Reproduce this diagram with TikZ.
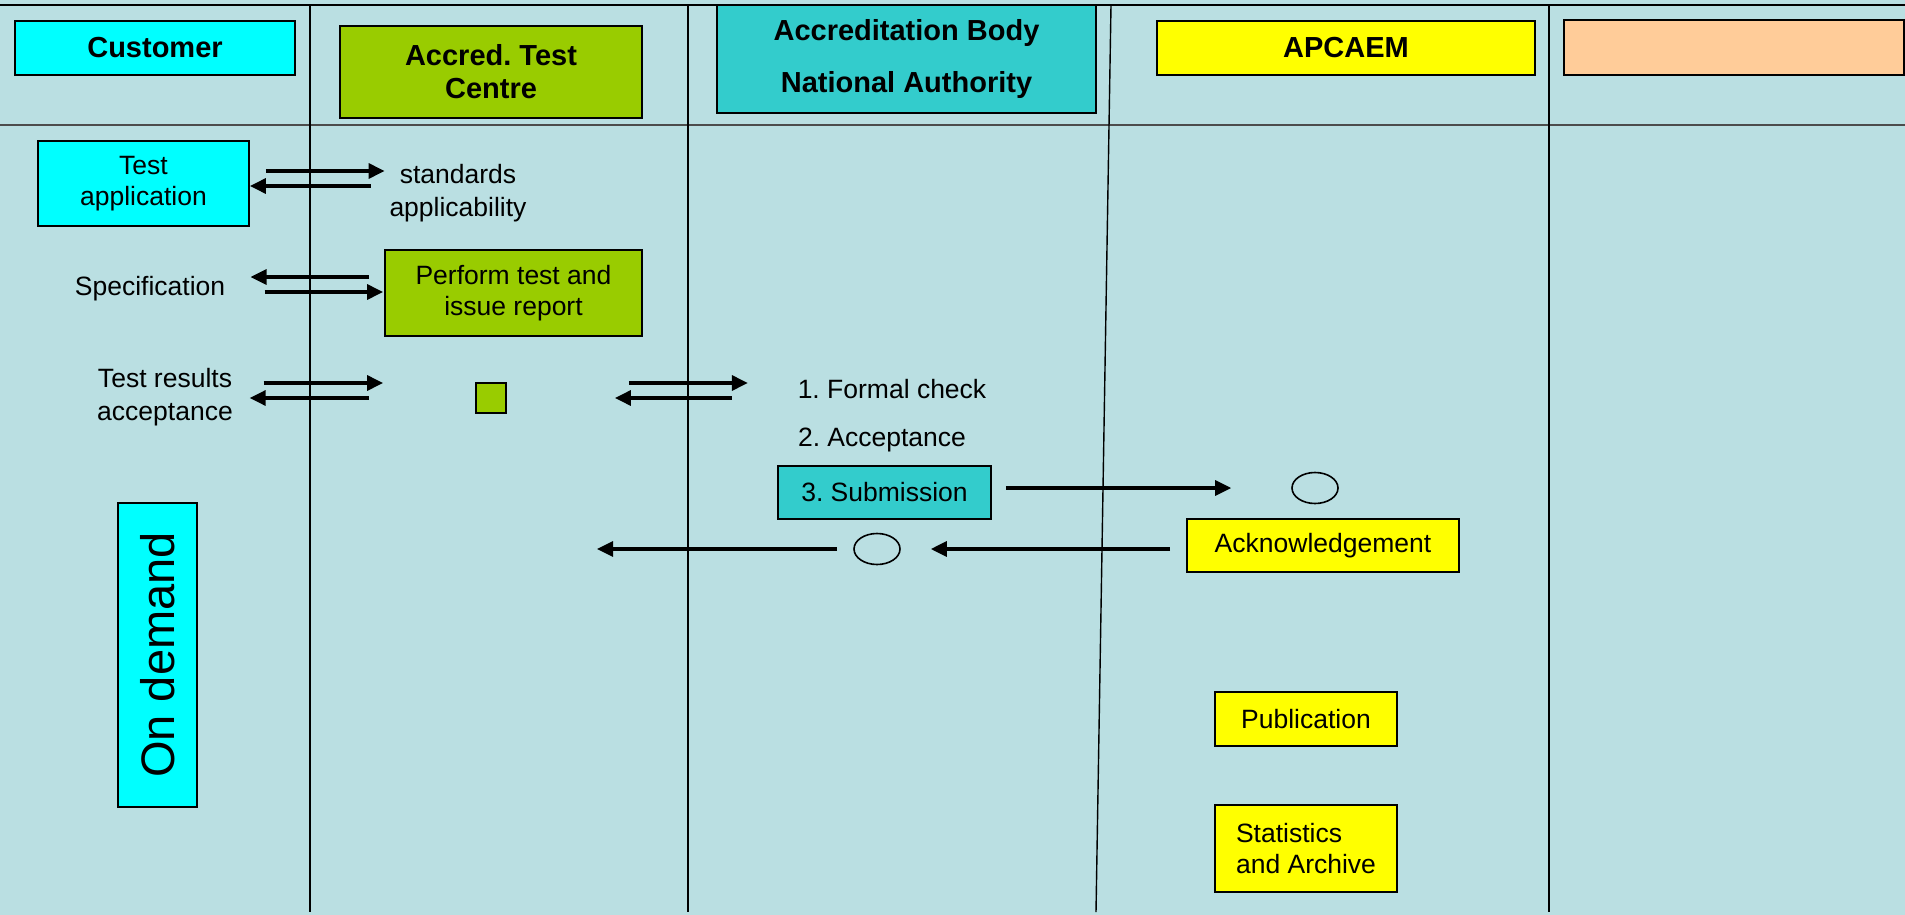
\documentclass[tikz,border=0pt]{standalone}
\usepackage{fontspec}
\setmainfont{Liberation Sans}
\usetikzlibrary{arrows.meta,shadows,shapes.geometric}
\definecolor{laneBg}{RGB}{186,223,226}
\definecolor{custCyan}{RGB}{0,255,255}
\definecolor{testGreen}{RGB}{153,204,0}
\definecolor{bodyTeal}{RGB}{51,204,204}
\definecolor{apcYellow}{RGB}{255,255,0}
\definecolor{peachTone}{RGB}{255,204,153}
\frenchspacing

\begin{document}
\begin{tikzpicture}[x=0.5pt,y=-0.5pt,
    box/.style={draw, line width=0.9pt, inner sep=0pt, align=center,
      general shadow={shadow xshift=0.6pt, shadow yshift=-0.6pt, fill=black!55},
      font=\fontsize{13.25}{15.5}\selectfont},
    head/.style={box, font=\fontsize{14.5}{16.5}\selectfont\bfseries},
    lbl/.style={inner sep=0pt, align=center, font=\fontsize{13.25}{16.5}\selectfont},
    oval/.style={draw, ellipse, line width=0.8pt, inner sep=0pt,
      minimum width=23pt, minimum height=15.5pt},
    arr/.style={-{Triangle[length=8pt,width=7.5pt]}, line width=1.6pt},
    lane/.style={line width=1pt}]
  \fill[laneBg] (0,0) rectangle (1905,915);
  \useasboundingbox (0,0) rectangle (1905,915);
  \draw[lane] (0,5) -- (1905,5);
  \draw[lane, black!70] (0,125) -- (1905,125);
  \foreach \lx in {310,688,1549}
    \draw[lane] (\lx,5) -- (\lx,912);
  \draw[line width=0.7pt] (1111,5) -- (1096,912);

  \node[head, fill=custCyan, minimum width=140pt, minimum height=27pt] (cust) at (155,48) {Customer};
  \node[head, fill=testGreen, minimum width=151pt, minimum height=46pt] (atc) at (491,72) {Accred. Test\\Centre};
  \node[head, fill=bodyTeal, minimum width=189.5pt, minimum height=54pt,
    font=\fontsize{14.5}{26}\selectfont\bfseries] (ab) at (906.5,59) {Accreditation Body\\National Authority};
  \node[head, fill=apcYellow, minimum width=189pt, minimum height=27pt] (apc) at (1346,48) {APCAEM};
  \node[head, fill=peachTone, minimum width=170pt, minimum height=27.5pt] (other) at (1734,47.5) {};

  \node[box, fill=custCyan, minimum width=105.5pt, minimum height=42.5pt] (tapp) at (143.5,183.5) {Test\\application};
  \node[box, fill=testGreen, minimum width=128.5pt, minimum height=43pt] (perf) at (513.5,293) {Perform test and\\issue report};
  \node[box, fill=testGreen, minimum width=15pt, minimum height=15pt] (sq) at (491,398) {};
  \node[box, fill=bodyTeal, minimum width=106.5pt, minimum height=26.5pt] (sub) at (884.5,492.5) {3. Submission};
  \node[box, fill=apcYellow, minimum width=136pt, minimum height=26.5pt] (ack) at (1323,545.5) {Acknowledgement};
  \node[box, fill=apcYellow, minimum width=91pt, minimum height=27pt] (pub) at (1306,719) {Publication};
  \node[box, fill=apcYellow, minimum width=91pt, minimum height=43.5pt, align=left] (stat) at (1306,848.5) {Statistics\\and Archive};
  \node[box, fill=custCyan, rotate=90, minimum width=152pt, minimum height=39.5pt,
    font=\fontsize{23.5}{28}\selectfont] (ond) at (157.5,655) {On demand};

  \node[lbl] (std) at (458,193.5) {standards\\applicability};
  \node[lbl] (spec) at (150,289) {Specification};
  \node[lbl] (tres) at (165,397) {Test results\\acceptance};
  \node[lbl] (fchk) at (892,389) {1. Formal check};
  \node[lbl] (accp) at (882,440) {2. Acceptance};

  \node[oval] (e1) at (1315,488) {};
  \node[oval] (e2) at (877,549) {};
  \coordinate (ret) at (597,549);

  \draw[arr] ([shift={(16,-12.5)}]tapp.east) -- ([shift={(-4.5,-22.5)}]std.west);
  \draw[arr] ([shift={(-18.5,-7.5)}]std.west) -- ([shift={(0,2.5)}]tapp.east);
  \draw[arr] ([shift={(-15,-16)}]perf.west) -- ([shift={(25,-12)}]spec.east);
  \draw[arr] ([shift={(39,3)}]spec.east) -- ([shift={(-1,-1)}]perf.west);
  \draw[arr] ([shift={(30.5,-14)}]tres.east) -- ([shift={(-92,-15)}]sq.west);
  \draw[arr] ([shift={(-106,0)}]sq.west) -- ([shift={(16.5,1)}]tres.east);
  \draw[arr] ([shift={(122,-15)}]sq.east) -- ([shift={(-49.5,-6)}]fchk.west);
  \draw[arr] ([shift={(-65.5,9)}]fchk.west) -- ([shift={(108,0)}]sq.east);
  \draw[arr] ([shift={(14,-4.5)}]sub.east) -- ([shift={(-60,0)}]e1.west);
  \draw[arr] ([shift={(-16,3.5)}]ack.west) -- ([shift={(30,0)}]e2.east);
  \draw[arr] ([shift={(-16,0)}]e2.west) -- (ret);
\end{tikzpicture}
\end{document}
